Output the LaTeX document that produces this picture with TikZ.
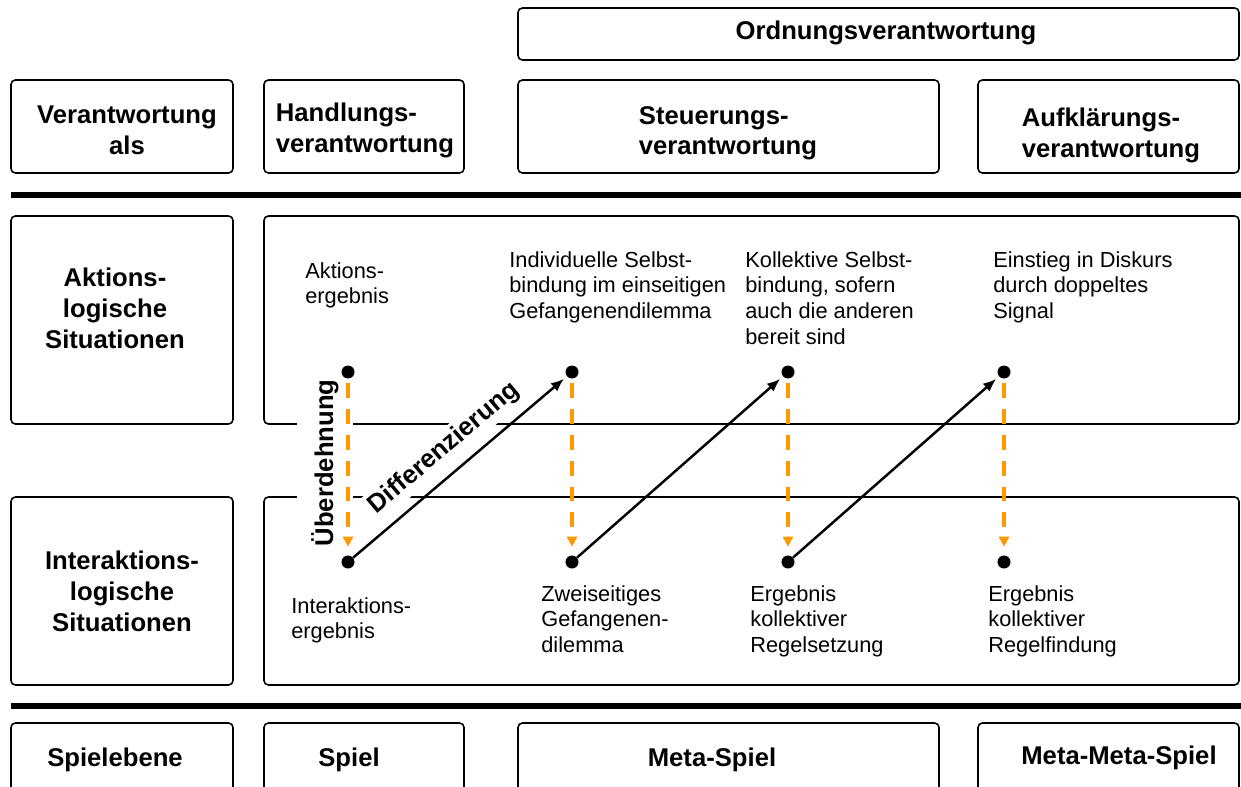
\documentclass[tikz,border=0pt]{standalone}
\usepackage{fontspec}
\setmainfont{Liberation Sans}
\usepackage{xcolor}
\usetikzlibrary{arrows.meta}
\definecolor{dashorange}{RGB}{255,153,0}
\tikzset{>=Latex}
\tikzset{
  box/.style={draw, line width=0.9pt, rounded corners=2.5pt},
  head/.style={font=\bfseries\fontsize{14.6}{17.4}\selectfont, inner sep=0pt},
  txt/.style={font=\fontsize{12.4}{14.7}\selectfont, align=left, anchor=north west, inner sep=0pt},
  dot/.style={circle, fill=black, inner sep=0pt, minimum size=0.26cm},
  overstretch/.style={dashorange, line width=2.2pt, dash pattern=on 8.5pt off 6.2pt,
    -{Triangle[width=5.7pt,length=5.7pt]}, shorten <=2.5pt, shorten >=4.8pt},
  refine/.style={line width=1.4pt, -{Latex[length=7.5pt,width=6pt]}, shorten >=2pt}
}

\begin{document}
\begin{tikzpicture}[x=0.02cm, y=-0.02cm]
\useasboundingbox (0,0) rectangle (1241,787);

% Header boxes
\draw[box] (518,8) rectangle (1239,60);
\draw[box] (11,80) rectangle (233,173);
\draw[box] (264,80) rectangle (464,173);
\draw[box] (518,80) rectangle (939,173);
\draw[box] (978,80) rectangle (1239,173);

% Separators
\draw[line width=3pt] (11,195) -- (1241,195);
\draw[line width=3pt] (11,706) -- (1241,706);

% Situation boxes
\draw[box] (11,216) rectangle (233,424);
\draw[box] (264,216) rectangle (1239,424);
\draw[box] (11,497) rectangle (233,685);
\draw[box] (264,497) rectangle (1239,685);

% Game level boxes (cut off at the bottom)
\draw[box] (11,787) |- (233,723) -- (233,787);
\draw[box] (264,787) |- (464,723) -- (464,787);
\draw[box] (518,787) |- (939,723) -- (939,787);
\draw[box] (978,787) |- (1239,723) -- (1239,787);

% Headings
\node[head, anchor=base] (ordn) at (886,40) {Ordnungsverantwortung};
\node[head, align=center, anchor=north] (als) at (127,106) {Verantwortung\\als};
\node[head, align=left, anchor=north] (handl) at (365,103) {Handlungs-\\verantwortung};
\node[head, align=left, anchor=north] (steu) at (728,106) {Steuerungs-\\verantwortung};
\node[head, align=left, anchor=north] (aufkl) at (1111,108) {Aufklärungs-\\verantwortung};
\node[head, align=center, anchor=north] (aktsit) at (115,268) {Aktions-\\logische\\Situationen};
\node[head, align=center, anchor=north] (intsit) at (122,551) {Interaktions-\\logische\\Situationen};
\node[head, anchor=base] (ebene) at (115,766) {Spielebene};
\node[head, anchor=base] (spiel) at (349,766) {Spiel};
\node[head, anchor=base] (meta) at (712,766) {Meta-Spiel};
\node[head, anchor=base] (metameta) at (1119,764) {Meta-Meta-Spiel};

% Results
\node[txt] (aerg) at (305,262) {Aktions-\\ergebnis};
\node[txt] (indiv) at (509,251) {Individuelle Selbst-\\bindung im einseitigen\\Gefangenendilemma};
\node[txt] (koll) at (745,251) {Kollektive Selbst-\\bindung, sofern\\auch die anderen\\bereit sind};
\node[txt] (einst) at (993,251) {Einstieg in Diskurs\\durch doppeltes\\Signal};
\node[txt] (ierg) at (291,597) {Interaktions-\\ergebnis};
\node[txt] (zweis) at (541,585) {Zweiseitiges\\Gefangenen-\\dilemma};
\node[txt] (setz) at (750,585) {Ergebnis\\kollektiver\\Regelsetzung};
\node[txt] (find) at (988,585) {Ergebnis\\kollektiver\\Regelfindung};

% Label across the boxes
\node[head, rotate=90, fill=white, inner xsep=1pt, inner ysep=8pt] (ueber) at (325,463) {Überdehnung};

% Points
\foreach \x/\n in {348/1, 572/2, 788/3, 1004/4} {
  \node[dot] (up\n) at (\x,372) {};
  \node[dot] (lo\n) at (\x,562) {};
}

% Arrows
\foreach \n in {1,...,4}
  \draw[overstretch] (up\n) -- (lo\n);

\draw[refine] (lo1) -- node[head, midway, sloped, above=4.5pt, fill=white, inner sep=2pt] (diff) {Differenzierung} (up2);
\draw[refine] (lo2) -- (up3);
\draw[refine] (lo3) -- (up4);

\end{tikzpicture}
\end{document}
